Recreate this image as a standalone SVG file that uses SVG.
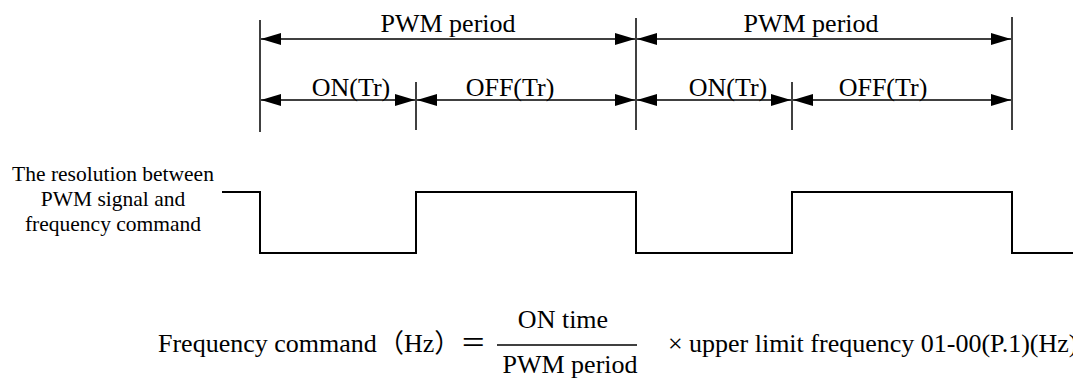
<svg xmlns="http://www.w3.org/2000/svg" width="1073" height="383" viewBox="0 0 1073 383">
<defs>
<marker id="ah" viewBox="0 0 20 12" refX="20" refY="6" markerWidth="20" markerHeight="12" markerUnits="userSpaceOnUse" orient="auto-start-reverse">
<path d="M0,0 L20,6 L0,12 z" fill="#000"/>
</marker>
<style>
.t{font-family:"Liberation Serif","Times New Roman",serif;font-size:26px;fill:#000}
.s{font-family:"Liberation Serif","Times New Roman",serif;font-size:21.5px;fill:#000}
.cjk{font-family:"Liberation Serif","Noto Sans CJK SC",serif;font-size:26px;fill:#000}
.ln{stroke:#000;stroke-width:1.5;fill:none}
.dim{stroke:#000;stroke-width:1.5;fill:none;marker-start:url(#ah);marker-end:url(#ah)}
.wave{stroke:#000;stroke-width:2;fill:none}
</style>
</defs>
<g id="guides">
<line class="ln" x1="260" y1="20" x2="260" y2="132"/>
<line class="ln" x1="416" y1="82" x2="416" y2="130"/>
<line class="ln" x1="636" y1="18" x2="636" y2="130"/>
<line class="ln" x1="792" y1="82" x2="792" y2="130"/>
<line class="ln" x1="1012" y1="17" x2="1012" y2="130"/>
</g>
<g id="connectors">
<line class="dim" x1="261" y1="39" x2="635" y2="39"/>
<line class="dim" x1="637" y1="39" x2="1011" y2="39"/>
<line class="dim" x1="261" y1="100" x2="415" y2="100"/>
<line class="dim" x1="417" y1="100" x2="635" y2="100"/>
<line class="dim" x1="637" y1="100" x2="791" y2="100"/>
<line class="dim" x1="793" y1="100" x2="1011" y2="100"/>
</g>
<g id="labels">
<text class="t" x="448" y="32" text-anchor="middle">PWM period</text>
<text class="t" x="811" y="32" text-anchor="middle">PWM period</text>
<text class="t" x="351" y="96" text-anchor="middle">ON(Tr)</text>
<text class="t" x="510" y="96" text-anchor="middle">OFF(Tr)</text>
<text class="t" x="728" y="96" text-anchor="middle">ON(Tr)</text>
<text class="t" x="883" y="96" text-anchor="middle">OFF(Tr)</text>
</g>
<g id="signal-label">
<text class="s" x="113" y="181" text-anchor="middle">The resolution between</text>
<text class="s" x="113" y="206" text-anchor="middle">PWM signal and</text>
<text class="s" x="113" y="231" text-anchor="middle">frequency command</text>
</g>
<g id="waveform">
<polyline class="wave" points="222,192 260,192 260,253 416,253 416,192 636,192 636,253 792,253 792,192 1012,192 1012,253 1073,253"/>
</g>
<g id="formula">
<text class="t" x="158" y="352">Frequency command</text>
<text class="cjk" x="378" y="352">（Hz）＝</text>
<text class="t" x="563" y="328" text-anchor="middle">ON time</text>
<line class="ln" x1="497" y1="345" x2="637" y2="345"/>
<text class="t" x="570" y="373" text-anchor="middle">PWM period</text>
<text class="t" x="668" y="352">×</text>
<text class="t" x="689" y="352">upper limit frequency 01-00(P.1)(Hz)</text>
</g>
</svg>
